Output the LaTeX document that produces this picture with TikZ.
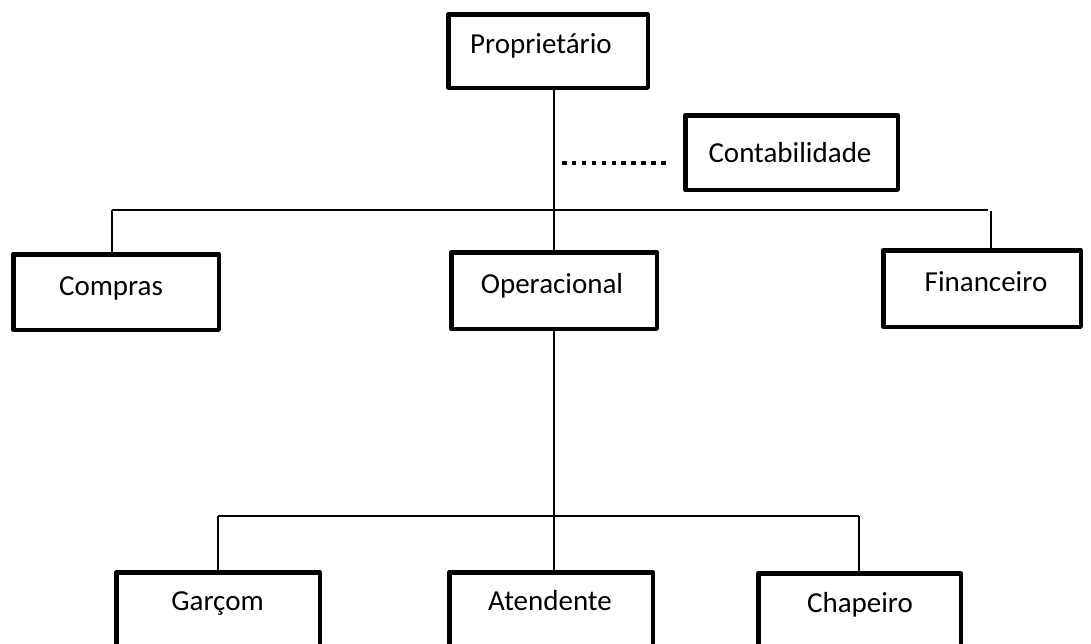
\documentclass[tikz,border=0pt]{standalone}
\usepackage{fontspec}
\setmainfont{Carlito}
\begin{document}
\begin{tikzpicture}[x=1pt,y=-1pt,
  box/.style={draw, line width=4.5pt, line join=round, inner sep=0pt, minimum width=#1},
  box/.default=205pt,
  lbl/.style={font=\fontsize{29}{34}\selectfont, inner sep=0pt, anchor=base},
  link/.style={line width=2pt},
  dotline/.style={line width=4.5pt, dash pattern=on 4.5pt off 5.4pt}]
\useasboundingbox (0,0) rectangle (1091,643);
\clip (0,0) rectangle (1091,643);
\fill[white] (0,0) rectangle (1091,643);

% boxes
\node[box=199.5pt, minimum height=73.5pt] (prop) at (548,51) {};
\node[box=212.5pt, minimum height=74.5pt] (cont) at (791.5,152.5) {};
\node[box=205.5pt, minimum height=75.5pt] (comp) at (116,292) {};
\node[box=205.5pt, minimum height=76.5pt] (oper) at (554,290.5) {};
\node[box=197.5pt, minimum height=76.5pt] (fin) at (982,288.5) {};
\node[box=203.5pt, minimum height=125.5pt] (garc) at (218,635) {};
\node[box=203.5pt, minimum height=125.5pt] (aten) at (551,635) {};
\node[box=202.5pt, minimum height=125.5pt] (chap) at (859.5,636) {};

% labels
\node[lbl, anchor=base west] (propt) at (470,53) {Proprietário};
\node[lbl] (contt) at (790,162) {Contabilidade};
\node[lbl] (compt) at (111,295) {Compras};
\node[lbl] (opert) at (552,293) {Operacional};
\node[lbl] (fint) at (986,291) {Financeiro};
\node[lbl] (garct) at (217.5,610) {Garçom};
\node[lbl] (atent) at (550,610) {Atendente};
\node[lbl] (chapt) at (860,612) {Chapeiro};

% upper level connectors
\coordinate (barL) at (112,210);
\coordinate (barR) at (988,210);
\coordinate (finC) at (991,211);
\draw[link] (prop.south -| oper.north) -- (oper.north);
\draw[link] (barL) -- (barR);
\draw[link] (barL) -- (barL |- comp.north);
\draw[link] (finC) -- (finC |- fin.north);

% advisory link to accounting
\coordinate (dotL) at (562,163);
\coordinate (dotR) at (668,163);
\draw[dotline] (dotL) -- (dotR);

% lower level connectors
\coordinate (lowL) at (218,516);
\coordinate (lowR) at (859,516);
\draw[link] (oper.south) -- (oper.south |- aten.north);
\draw[link] (lowL) -- (lowR);
\draw[link] (lowL) -- (lowL |- garc.north);
\draw[link] (lowR) -- (lowR |- chap.north);
\end{tikzpicture}
\end{document}
